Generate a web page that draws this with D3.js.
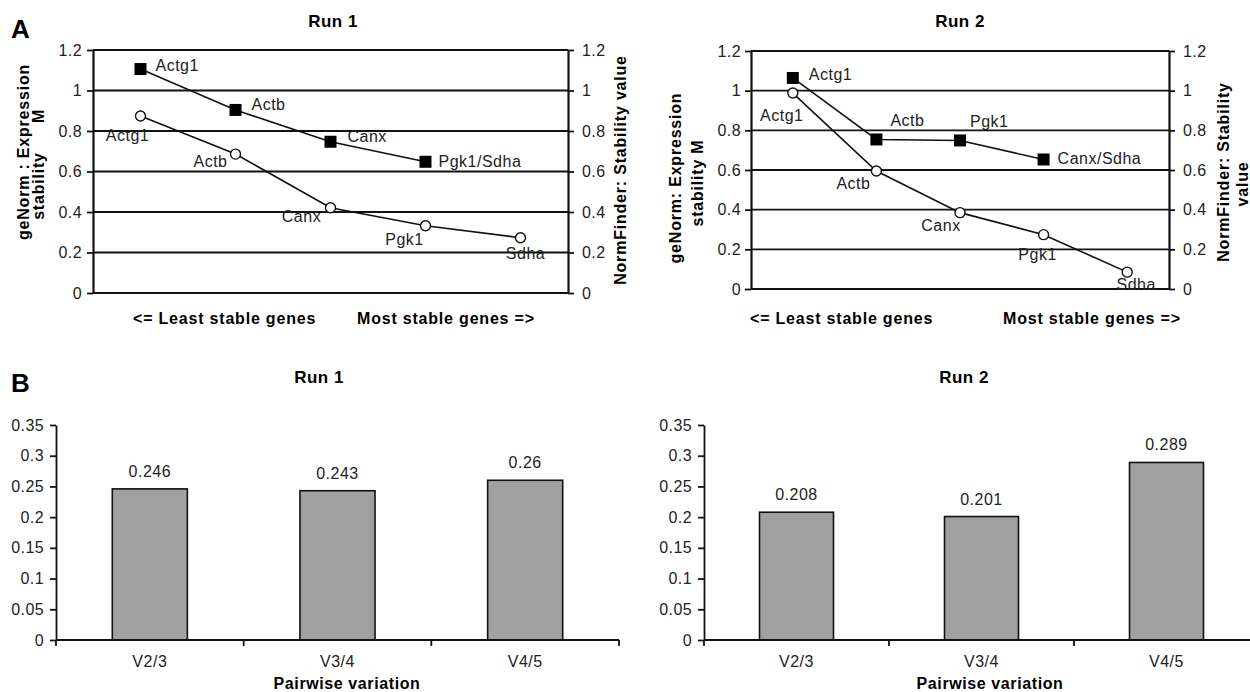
<!DOCTYPE html>
<html><head><meta charset="utf-8">
<script src="https://cdn.jsdelivr.net/npm/d3@7"></script>
<style>
html,body{margin:0;padding:0;background:#fff;overflow:hidden}
svg{display:block;font-family:"Liberation Sans",Arial,Helvetica,sans-serif}
</style></head><body><svg id="c" width="1250" height="692"></svg>
<script>
// ---------------- data ----------------
const rankSlots = ["1","2","3","4","5"];
const run1GenormGenes = ["Actg1","Actb","Canx","Pgk1/Sdha"];
const run1GenormM = [1.106, 0.904, 0.747, 0.648];
const run1NormGenes = ["Actg1","Actb","Canx","Pgk1","Sdha"];
const run1NormValues = [0.874, 0.686, 0.421, 0.332, 0.273];
const run2GenormGenes = ["Actg1","Actb","Pgk1","Canx/Sdha"];
const run2GenormM = [1.064, 0.754, 0.749, 0.653];
const run2NormGenes = ["Actg1","Actb","Canx","Pgk1","Sdha"];
const run2NormValues = [0.988, 0.595, 0.385, 0.274, 0.085];
const stabilityTicks = [0, 0.2, 0.4, 0.6, 0.8, 1, 1.2];
const pairLabels = ["V2/3","V3/4","V4/5"];
const run1Pairwise = [0.246, 0.243, 0.26];
const run2Pairwise = [0.208, 0.201, 0.289];
const pairwiseTicks = [0, 0.05, 0.1, 0.15, 0.2, 0.25, 0.3, 0.35];

// ---------------- layout (label offsets, px) ----------------
const run1SquareLabelPos = [[15,2],[16,0],[17,0],[13,5]];
const run1CircleLabelPos = [[-13,25],[-25,13],[-29,14],[-21,19],[5,21]];
const run2SquareLabelPos = [[16,2],[14,-13],[10,-13],[14,5]];
const run2CircleLabelPos = [[-11,28],[-23,18],[-19,18],[-6,25],[9,18]];

const svg = d3.select("#c");
const FONT_TXT = "#222";

function txt(g, x, y, s, o) {
  o = o || {};
  const t = g.append("text").attr("x", x).attr("y", y).text(s)
    .attr("font-size", o.size || 16)
    .attr("font-weight", o.bold ? "bold" : "normal")
    .attr("fill", o.color || (o.bold ? "#000" : FONT_TXT))
    .attr("text-anchor", o.anchor || "start")
    .style("letter-spacing", (o.ls != null ? o.ls : 0.5) + "px");
  if (o.rot) t.attr("transform", `rotate(-90,${x},${y})`).attr("dominant-baseline", "central");
  return t;
}

function styleAxis(ax) {
  ax.selectAll("text").attr("font-size", 16).attr("fill", FONT_TXT)
    .attr("font-family", '"Liberation Sans",Arial,sans-serif').style("letter-spacing","0.4px");
  ax.selectAll("line").attr("stroke", "#111").attr("stroke-width", 1.8);
  ax.select(".domain").attr("stroke", "#111").attr("stroke-width", 2.2);
}

function lineChart(L, sqGenes, sqVals, ciGenes, ciVals, sqPos, ciPos) {
  const g = svg.append("g");
  const x = d3.scaleBand().domain(rankSlots).range([L.left, L.right]);
  const y = d3.scaleLinear().domain([0, 1.2]).range([L.bottom, L.top]);
  const cx = i => x(rankSlots[i]) + x.bandwidth() / 2;

  g.selectAll("line.grid").data(stabilityTicks).join("line")
    .attr("x1", L.left).attr("x2", L.right)
    .attr("y1", d => y(d)).attr("y2", d => y(d))
    .attr("stroke", "#111").attr("stroke-width", d => d === 0 ? 2.2 : 1.8);

  const axL = g.append("g").attr("transform", `translate(${L.left},0)`)
    .call(d3.axisLeft(y).tickValues(stabilityTicks).tickFormat(String).tickSize(6).tickSizeOuter(0).tickPadding(L.padL));
  styleAxis(axL);
  const axR = g.append("g").attr("transform", `translate(${L.right},0)`)
    .call(d3.axisRight(y).tickValues(stabilityTicks).tickFormat(String).tickSize(6).tickSizeOuter(0).tickPadding(8));
  styleAxis(axR);

  const line = d3.line().x(d => cx(d.i)).y(d => y(d.v));
  const sq = sqVals.map((v, i) => ({ v, i, name: sqGenes[i] }));
  const ci = ciVals.map((v, i) => ({ v, i, name: ciGenes[i] }));

  g.append("path").datum(ci).attr("d", line).attr("fill", "none").attr("stroke", "#111").attr("stroke-width", 1.6);
  g.append("path").datum(sq).attr("d", line).attr("fill", "none").attr("stroke", "#111").attr("stroke-width", 1.6);

  g.selectAll("rect.sq").data(sq).join("rect")
    .attr("x", d => cx(d.i) - 6).attr("y", d => y(d.v) - 6)
    .attr("width", 12).attr("height", 12).attr("fill", "#000");
  g.selectAll("circle.ci").data(ci).join("circle")
    .attr("cx", d => cx(d.i)).attr("cy", d => y(d.v)).attr("r", 5)
    .attr("fill", "#fff").attr("stroke", "#111").attr("stroke-width", 1.4);

  sq.forEach((d, k) => txt(g, cx(d.i) + sqPos[k][0], y(d.v) + sqPos[k][1], d.name, { anchor: "start" }));
  ci.forEach((d, k) => txt(g, cx(d.i) + ciPos[k][0], y(d.v) + ciPos[k][1], d.name, { anchor: "middle" }));
  return g;
}

function barChart(L, vals) {
  const g = svg.append("g");
  const x = d3.scaleBand().domain(pairLabels).range([L.left, L.right]).paddingInner(0.6).paddingOuter(0.3);
  const y = d3.scaleLinear().domain([0, 0.35]).range([L.bottom, L.top]);
  const data = vals.map((v, i) => ({ v, k: pairLabels[i] }));

  g.selectAll("rect.bar").data(data).join("rect")
    .attr("x", d => x(d.k)).attr("y", d => y(d.v))
    .attr("width", x.bandwidth()).attr("height", d => y(0) - y(d.v))
    .attr("fill", "#a0a0a0").attr("stroke", "#111").attr("stroke-width", 1.6);

  const ax = g.append("g").attr("transform", `translate(${L.left},0)`)
    .call(d3.axisLeft(y).tickValues(pairwiseTicks).tickFormat(String).tickSize(6).tickSizeOuter(0).tickPadding(6));
  styleAxis(ax);
  ax.select(".domain").attr("stroke-width", 1.8);

  g.append("line").attr("x1", L.left).attr("x2", L.right).attr("y1", y(0)).attr("y2", y(0))
    .attr("stroke", "#111").attr("stroke-width", 1.8);
  const bounds = d3.range(pairLabels.length + 1).map(i => x.range()[0] + i * x.step());
  g.selectAll("line.bt").data(bounds).join("line")
    .attr("x1", d => d).attr("x2", d => d).attr("y1", y(0)).attr("y2", y(0) + 6)
    .attr("stroke", "#111").attr("stroke-width", 1.8);

  data.forEach(d => {
    const c = x(d.k) + x.bandwidth() / 2;
    txt(g, c, y(d.v) - 12, String(d.v), { anchor: "middle" });
    txt(g, c, 667, d.k, { anchor: "middle" });
  });
  return g;
}

// ---------------- panels ----------------
const top1 = { left: 93, right: 568, top: 50, bottom: 293, padL: 5 };
const top2 = { left: 751, right: 1169, top: 51, bottom: 289, padL: 4 };
const bot1 = { left: 56, right: 619, top: 425, bottom: 640 };
const bot2 = { left: 704, right: 1259, top: 425, bottom: 640 };

lineChart(top1, run1GenormGenes, run1GenormM, run1NormGenes, run1NormValues, run1SquareLabelPos, run1CircleLabelPos);
lineChart(top2, run2GenormGenes, run2GenormM, run2NormGenes, run2NormValues, run2SquareLabelPos, run2CircleLabelPos);
barChart(bot1, run1Pairwise);
barChart(bot2, run2Pairwise);

const T = svg.append("g");
txt(T, 11, 38, "A", { bold: true, size: 26, ls: 0 });
txt(T, 11, 392, "B", { bold: true, size: 26, ls: 0 });
txt(T, 333, 27, "Run 1", { bold: true, size: 17, anchor: "middle" });
txt(T, 960, 27, "Run 2", { bold: true, size: 17, anchor: "middle" });
txt(T, 319, 383, "Run 1", { bold: true, size: 17, anchor: "middle" });
txt(T, 964, 383, "Run 2", { bold: true, size: 17, anchor: "middle" });
txt(T, 133, 324, "<= Least stable genes", { bold: true, ls: 0.8 });
txt(T, 357, 324, "Most stable genes =>", { bold: true, ls: 0.8 });
txt(T, 750, 324, "<= Least stable genes", { bold: true, ls: 0.8 });
txt(T, 1003, 324, "Most stable genes =>", { bold: true, ls: 0.8 });
txt(T, 23, 152, "geNorm : Expression", { bold: true, anchor: "middle", rot: true, ls: 0.8 });
txt(T, 38, 186, "stability", { bold: true, anchor: "middle", rot: true, ls: 0.8 });
txt(T, 38, 116, "M", { bold: true, anchor: "middle", rot: true, ls: 0.8 });
txt(T, 620, 170, "NormFinder: Stability value", { bold: true, anchor: "middle", rot: true, ls: 0.8 });
txt(T, 675, 178, "geNorm: Expression", { bold: true, anchor: "middle", rot: true, ls: 0.8 });
txt(T, 697, 183, "stability M", { bold: true, anchor: "middle", rot: true, ls: 0.8 });
txt(T, 1223, 172, "NormFinder: Stability", { bold: true, anchor: "middle", rot: true, ls: 0.8 });
txt(T, 1242, 184, "value", { bold: true, anchor: "middle", rot: true, ls: 0.8 });
txt(T, 347, 689, "Pairwise variation", { bold: true, anchor: "middle", ls: 0.6 });
txt(T, 990, 689, "Pairwise variation", { bold: true, anchor: "middle", ls: 0.6 });
</script></body></html>
